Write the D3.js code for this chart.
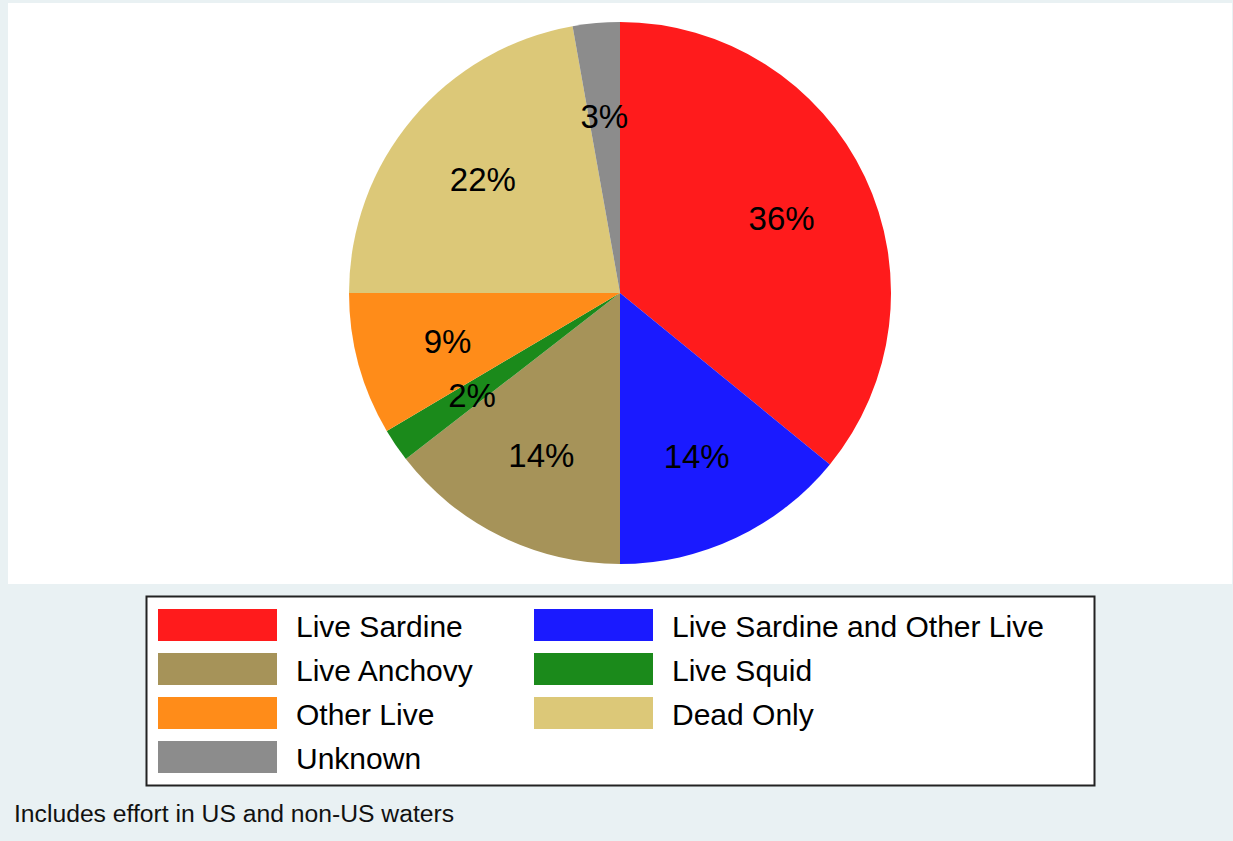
<!DOCTYPE html>
<html>
<head>
<meta charset="utf-8">
<script src="https://cdn.jsdelivr.net/npm/d3@7"></script>
<style>
  body { margin: 0; background: #e9f1f3; }
  svg { display: block; font-family: "Liberation Sans", Arial, Helvetica, sans-serif; }
</style>
</head>
<body>
<div id="my_dataviz"></div>
<script>
// slice order, clockwise from 12 o'clock
var categories = ["Live Sardine", "Live Sardine and Other Live", "Live Anchovy", "Live Squid", "Other Live", "Dead Only", "Unknown"];
var shares = [35.9, 14.1, 14.5, 2.0, 8.5, 22.2, 2.8];
var labels = ["36%", "14%", "14%", "2%", "9%", "22%", "3%"];
var colors = ["#ff1b1c", "#1a1aff", "#a69359", "#1b8a1b", "#ff8c19", "#dcc878", "#8c8c8c"];
// legend order (two columns, row by row)
var legendOrder = ["Live Sardine", "Live Sardine and Other Live", "Live Anchovy", "Live Squid", "Other Live", "Dead Only", "Unknown"];
var note = "Includes effort in US and non-US waters";

var W = 1233, H = 841;
var cx = 620, cy = 293, radius = 271;

var svg = d3.select("#my_dataviz")
    .append("svg")
    .attr("width", W)
    .attr("height", H);

// white plot panel
svg.append("rect")
    .attr("x", 8).attr("y", 3)
    .attr("width", 1224).attr("height", 581)
    .attr("fill", "#ffffff");

var data = categories.map(function(c, i) {
    return {name: c, value: shares[i], label: labels[i], color: colors[i]};
});

var pie = d3.pie()
    .sort(null)
    .value(function(d) { return d.value; });

var arc = d3.arc().innerRadius(0).outerRadius(radius);
var labelArc = d3.arc().innerRadius(radius * 0.66).outerRadius(radius * 0.66);

var g = svg.append("g")
    .attr("transform", "translate(" + cx + "," + cy + ")");

var arcs = pie(data);

g.selectAll("path.slice")
    .data(arcs)
    .enter()
    .append("path")
    .attr("class", "slice")
    .attr("d", arc)
    .attr("fill", function(d) { return d.data.color; });

g.selectAll("text.lbl")
    .data(arcs)
    .enter()
    .append("text")
    .attr("class", "lbl")
    .attr("transform", function(d) { return "translate(" + labelArc.centroid(d) + ")"; })
    .attr("text-anchor", "middle")
    .attr("dy", "0.4em")
    .style("font-size", "33px")
    .attr("fill", "#000")
    .text(function(d) { return d.data.label; });

// legend
var legend = svg.append("g");
legend.append("rect")
    .attr("x", 146.5).attr("y", 596.5)
    .attr("width", 948).attr("height", 189)
    .attr("fill", "#fff")
    .attr("stroke", "#222")
    .attr("stroke-width", 2);

var colX = [158, 534], rowY = 609, rowStep = 44;
var colorOf = {};
categories.forEach(function(c, i) { colorOf[c] = colors[i]; });

var items = legend.selectAll("g.item")
    .data(legendOrder)
    .enter()
    .append("g")
    .attr("class", "item")
    .attr("transform", function(d, i) {
        return "translate(" + colX[i % 2] + "," + (rowY + Math.floor(i / 2) * rowStep) + ")";
    });

items.append("rect")
    .attr("width", 119).attr("height", 32)
    .attr("fill", function(d) { return colorOf[d]; });

items.append("text")
    .attr("x", 138)
    .attr("y", 17)
    .attr("dy", "0.36em")
    .style("font-size", "30px")
    .attr("fill", "#000")
    .text(function(d) { return d; });

svg.append("text")
    .attr("x", 14)
    .attr("y", 822)
    .style("font-size", "24.7px")
    .attr("fill", "#111")
    .text(note);
</script>
</body>
</html>
